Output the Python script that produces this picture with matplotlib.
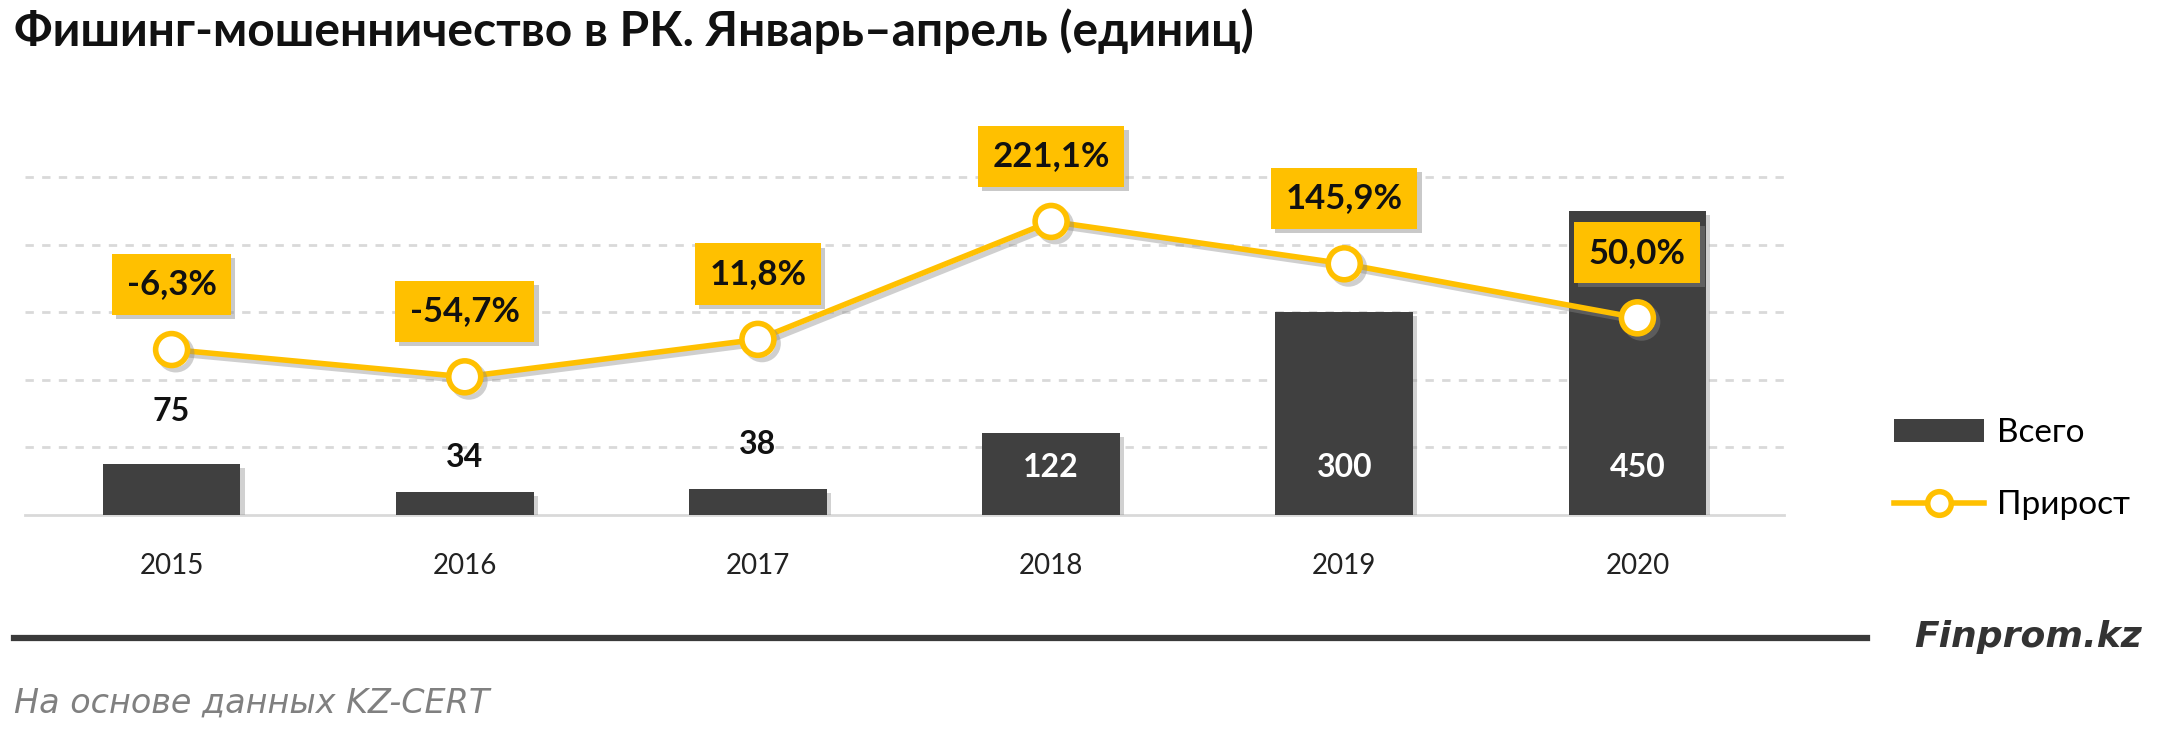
import matplotlib
matplotlib.use("Agg")
import matplotlib.pyplot as plt
import matplotlib.patheffects as pe
from matplotlib.lines import Line2D
from matplotlib.patches import Patch

# ---- data ----
years = ["2015", "2016", "2017", "2018", "2019", "2020"]
total = [75, 34, 38, 122, 300, 450]
growth = [-6.3, -54.7, 11.8, 221.1, 145.9, 50.0]
growth_labels = ["-6,3%", "-54,7%", "11,8%", "221,1%", "145,9%", "50,0%"]
title = "Фишинг-мошенничество в РК. Январь–апрель (единиц)"
legend_labels = ["Всего", "Прирост"]
source = "На основе данных KZ-CERT"
brand = "Finprom.kz"

# ---- style ----
FONT = ["Lato", "DejaVu Sans"]
plt.rcParams["font.family"] = FONT
DARK = "#404040"
GOLD = "#FFC000"
GRID = "#D9D9D9"
W, H, DPI = 2160, 736, 100

fig = plt.figure(figsize=(W / DPI, H / DPI), dpi=DPI)
fig.patch.set_facecolor("white")

left, right = 25 / W, 1784 / W
bottom = (H - 515) / H
top_px = 100
ax = fig.add_axes([left, bottom, right - left, (515 - top_px) / H])
ymax = (515 - top_px) / 0.676
ax.set_ylim(0, ymax)
ax.set_xlim(-0.5, len(years) - 0.5)

x = list(range(len(years)))
bars = ax.bar(x, total, width=0.47, color=DARK, zorder=3)
for b in bars:
    b.set_path_effects([pe.SimplePatchShadow(offset=(3, -3), shadow_rgbFace="#9a9a9a", alpha=0.45), pe.Normal()])

# grid
ax.set_yticks([100, 200, 300, 400, 500])
ax.yaxis.grid(True, color=GRID, linestyle=(0, (3, 3)), linewidth=2.0, zorder=0)
ax.set_yticklabels([])
ax.tick_params(axis="y", length=0)
for s in ["top", "right", "left"]:
    ax.spines[s].set_visible(False)
ax.spines["bottom"].set_color(GRID)
ax.spines["bottom"].set_linewidth(2.0)
ax.set_xticks(x)
ax.set_xticklabels(years, fontsize=20, color="#222222")
ax.tick_params(axis="x", length=0, pad=27)

# bar value labels
above_offsets = [38, 25, 32]
for i, v in enumerate(total):
    if v < 100:
        ax.annotate(str(v), (i, v), xytext=(0, above_offsets[i] if i < len(above_offsets) else 30),
                    textcoords="offset points", ha="center", va="center",
                    fontsize=23, fontweight="bold", color="#111111", zorder=6)
    else:
        ax.text(i, 70, str(v), ha="center", va="center", fontsize=23,
                fontweight="bold", color="white", zorder=6)

# secondary axis for growth line
ax2 = ax.twinx()
ax2.set_ylim(-300, -300 + ymax * 600 / 500)
ax2.axis("off")
ax2.plot(x, growth, color=GOLD, linewidth=4.0, marker="o", markersize=23,
         markerfacecolor="white", markeredgecolor=GOLD, markeredgewidth=4.0, zorder=5,
         path_effects=[pe.SimpleLineShadow(offset=(3, -3), shadow_color="#888888", alpha=0.4), pe.Normal()])

for i, (g, lab) in enumerate(zip(growth, growth_labels)):
    t = ax2.annotate(lab, (i, g), xytext=(0, 47), textcoords="offset points",
                     ha="center", va="center", fontsize=25, fontweight="bold", color="#111111",
                     bbox=dict(boxstyle="square,pad=0.42", facecolor=GOLD, edgecolor="none"),
                     zorder=7)
    t.get_bbox_patch().set_path_effects([pe.SimplePatchShadow(offset=(3, -3), shadow_rgbFace="#888888", alpha=0.45), pe.Normal()])

# legend
handles = [Patch(facecolor=DARK, edgecolor="none"),
           Line2D([0], [0], color=GOLD, linewidth=4.0, marker="o", markersize=17,
                  markerfacecolor="white", markeredgecolor=GOLD, markeredgewidth=4.0)]
fig.legend(handles, legend_labels, loc="center left", bbox_to_anchor=(1894 / W, (H - 469) / H),
           frameon=False, fontsize=24, handlelength=2.7, handleheight=0.7, handletextpad=0.4,
           labelspacing=1.27, borderpad=0, borderaxespad=0)

# title
fig.text(14 / W, 1 - 31 / H, title, ha="left", va="center", fontsize=34.5, fontweight="bold", color="#111111")

# bottom rule and brand
fig.add_artist(Line2D([14 / W, 1867 / W], [1 - 638 / H, 1 - 638 / H], color="#3a3a3a", linewidth=4.5,
                      transform=fig.transFigure))
fig.text(2142 / W, 1 - 637 / H, brand, ha="right", va="center", fontsize=26, fontweight="bold",
         style="italic", color="#333333", family=["DejaVu Sans"])
fig.text(14 / W, 1 - 703 / H, source, ha="left", va="center", fontsize=24, style="italic",
         color="#808080", family=["DejaVu Sans"])

fig.savefig("out.png", dpi=DPI, facecolor="white")
